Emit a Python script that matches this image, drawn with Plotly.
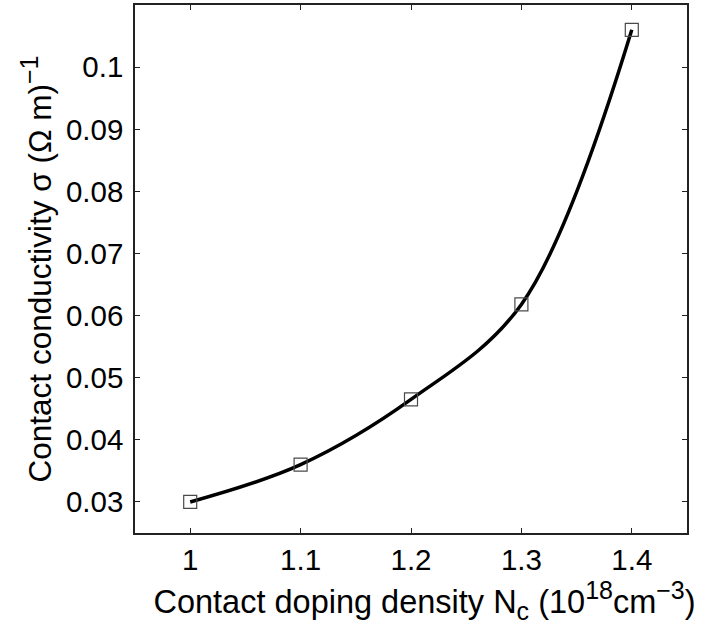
import plotly.graph_objects as go

doping = [1.0, 1.1, 1.2, 1.3, 1.4]
conductivity = [0.0300, 0.0360, 0.0465, 0.0618, 0.1060]
x_ticks = [1.0, 1.1, 1.2, 1.3, 1.4]
x_ticklabels = ["1", "1.1", "1.2", "1.3", "1.4"]
y_ticks = [0.03, 0.04, 0.05, 0.06, 0.07, 0.08, 0.09, 0.1]
y_ticklabels = ["0.03", "0.04", "0.05", "0.06", "0.07", "0.08", "0.09", "0.1"]

FONT = "Liberation Sans, Arial, sans-serif"
AX = "#222222"
FS_TICK = 29.5
FS_XTITLE = 32.5
FS_YTITLE = 31.5

fig = go.Figure()
fig.add_trace(go.Scatter(
    x=doping, y=conductivity, mode="lines",
    line=dict(color="black", width=3.5, shape="spline", smoothing=1.0),
    hoverinfo="skip", showlegend=False))
fig.add_trace(go.Scatter(
    x=doping, y=conductivity, mode="markers",
    marker=dict(symbol="square-open", size=13, color="#4a4a4a",
                line=dict(color="#4a4a4a", width=1.2)),
    showlegend=False))

sup = lambda t: "<sup><span style='font-size:25px'>" + t + "</span></sup>"
sub = lambda t: "<sub><span style='font-size:25px'>" + t + "</span></sub>"

fig.update_layout(
    width=704, height=636,
    margin=dict(l=135, r=17, t=5, b=103),
    paper_bgcolor="white", plot_bgcolor="white",
    font=dict(family=FONT, size=FS_TICK, color="black"),
    xaxis=dict(
        range=[0.95, 1.45], tickvals=x_ticks, ticktext=x_ticklabels,
        ticks="inside", ticklen=5, tickwidth=1, tickcolor=AX,
        showline=True, linecolor=AX, linewidth=1.5, mirror="ticks",
        showgrid=False, zeroline=False, automargin=False,
        tickfont=dict(size=FS_TICK), ticklabelstandoff=0,
        title=dict(text="&nbsp;&nbsp;&nbsp;Contact doping density N" + sub("c") + " (10" + sup("18") + "cm" + sup("−3") + ")",
                   font=dict(size=FS_XTITLE), standoff=3),
    ),
    yaxis=dict(
        range=[0.025, 0.11], tickvals=y_ticks, ticktext=y_ticklabels,
        ticks="inside", ticklen=5, tickwidth=1, tickcolor=AX,
        showline=True, linecolor=AX, linewidth=1.5, mirror="ticks",
        showgrid=False, zeroline=False, automargin=False,
        tickfont=dict(size=FS_TICK), ticklabelstandoff=4,
        title=dict(text="Contact conductivity σ (Ω m)" + sup("−1"),
                   font=dict(size=FS_YTITLE), standoff=5),
    ),
)

fig.write_html("out.html")
